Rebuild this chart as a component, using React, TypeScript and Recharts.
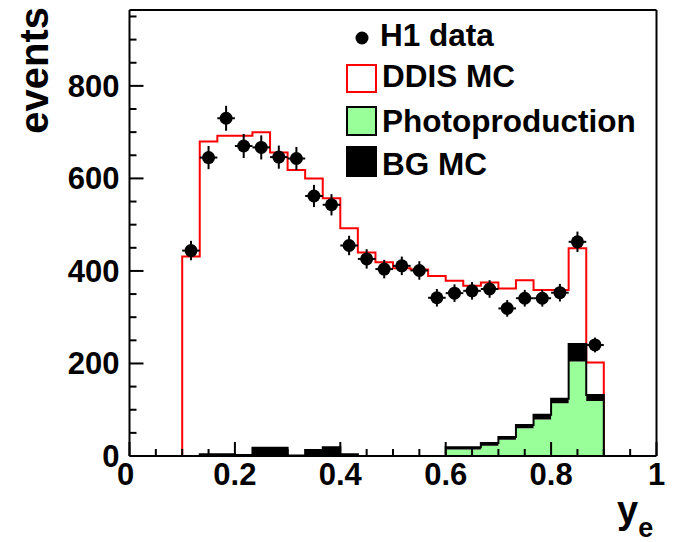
import React from 'react';
import { ComposedChart, Area, Scatter, ErrorBar, XAxis, YAxis, ReferenceLine } from 'recharts';

// y_e distribution: 24 bins of width 1/30 between 0.1 and 0.9
const binEdges = [
  0.1, 0.1333, 0.1667, 0.2, 0.2333, 0.2667, 0.3, 0.3333, 0.3667, 0.4, 0.4333, 0.4667, 0.5,
  0.5333, 0.5667, 0.6, 0.6333, 0.6667, 0.7, 0.7333, 0.7667, 0.8, 0.8333, 0.8667, 0.9,
];
const binCenters = [
  0.1167, 0.15, 0.1833, 0.2167, 0.25, 0.2833, 0.3167, 0.35, 0.3833, 0.4167, 0.45, 0.4833,
  0.5167, 0.55, 0.5833, 0.6167, 0.65, 0.6833, 0.7167, 0.75, 0.7833, 0.8167, 0.85, 0.8833,
];
const halfBin = 0.0167;

// total MC (DDIS + backgrounds), red step line
const ddisMC = [
  431, 680, 692, 692, 700, 656, 618, 600, 557, 492, 440, 419,
  406, 403, 389, 379, 368, 375, 362, 380, 359, 359, 449, 202,
];
const photoprod = [
  0, 0, 0, 0, 0, 0, 0, 0, 0, 0, 0, 0,
  0, 0, 0, 14, 14, 22, 35, 60, 79, 114, 204, 119,
];
const bgMC = [
  0, 4, 4, 2, 18, 18, 1, 13, 19, 4, 0, 0,
  0, 0, 0, 5, 5, 6, 6, 7, 10, 10, 38, 13,
];
const h1Data = [
  444, 645, 730, 670, 667, 646, 643, 562, 543, 455, 426, 404,
  411, 401, 342, 352, 357, 361, 319, 341, 341, 353, 463, 240,
];
const h1Err = [
  21, 25, 27, 26, 26, 25, 25, 24, 23, 21, 21, 20,
  20, 20, 19, 19, 19, 19, 18, 18, 18, 19, 22, 16,
];

const X_TICKS = [
  0, 0.05, 0.1, 0.15, 0.2, 0.25, 0.3, 0.35, 0.4, 0.45, 0.5,
  0.55, 0.6, 0.65, 0.7, 0.75, 0.8, 0.85, 0.9, 0.95, 1,
];
const X_MAJOR = [0, 0.2, 0.4, 0.6, 0.8, 1];
const Y_TICKS = [
  0, 50, 100, 150, 200, 250, 300, 350, 400, 450,
  500, 550, 600, 650, 700, 750, 800, 850, 900, 950,
];
const Y_MAJOR = [0, 200, 400, 600, 800];
const Y_MAX = 964;

const last = ddisMC.length - 1;
const histRows = [
  { x: binEdges[0], ddis: 0, photo: 0, bg: 0 },
  ...ddisMC.map((v, i) => ({ x: binEdges[i], ddis: v, photo: photoprod[i], bg: bgMC[i] })),
  { x: binEdges[last + 1], ddis: ddisMC[last], photo: photoprod[last], bg: bgMC[last] },
  { x: binEdges[last + 1], ddis: 0, photo: 0, bg: 0 },
];
const h1Points = binCenters.map((x, i) => ({ x, y: h1Data[i], err: h1Err[i], xerr: halfBin }));

const FONT = '"Liberation Sans", Arial, Helvetica, sans-serif';
const GREEN = '#99ff99';

function XTick({ x, y, payload }: any) {
  const v = payload.value;
  const major = X_MAJOR.includes(v);
  return (
    <g>
      <line x1={x} x2={x} y1={y} y2={y - (major ? 14 : 7)} stroke="#000" strokeWidth={2} />
      {major && (
        <text x={x + (v === 0 ? -4 : 0)} y={y + 29} textAnchor="middle"
          fontFamily={FONT} fontWeight="bold" fontSize={31} fill="#000">
          {v}
        </text>
      )}
    </g>
  );
}

function YTick({ x, y, payload }: any) {
  const v = payload.value;
  const major = Y_MAJOR.includes(v);
  return (
    <g>
      <line x1={x} x2={x + (major ? 14 : 7)} y1={y} y2={y} stroke="#000" strokeWidth={2} />
      {major && (
        <text x={x - 10} y={y + 11} textAnchor="end"
          fontFamily={FONT} fontWeight="bold" fontSize={31} fill="#000">
          {v}
        </text>
      )}
    </g>
  );
}

function DataMarker({ cx, cy }: any) {
  return <circle cx={cx} cy={cy} r={6.5} fill="#000" />;
}

function Overlay() {
  const txt = { fontFamily: FONT, fontWeight: 'bold' as const, fontSize: 31.5, fill: '#000' };
  return (
    <svg width={675} height={542} style={{ position: 'absolute', left: 0, top: 0, pointerEvents: 'none' }}>
      <text transform="translate(48, 7) rotate(-90)" textAnchor="end"
        fontFamily={FONT} fontWeight="bold" fontSize={40} fill="#000">events</text>
      <text x={617} y={523} fontFamily={FONT} fontWeight="bold" fontSize={38} fill="#000">
        y<tspan fontSize={27} dy={14}>e</tspan>
      </text>

      <circle cx={362} cy={38} r={6.5} fill="#000" />
      <text x={380} y={46} {...txt}>H1 data</text>
      <rect x={347} y={65} width={29} height={27} fill="#fff" stroke="#ff0000" strokeWidth={2} />
      <text x={382} y={87} {...txt}>DDIS MC</text>
      <rect x={347} y={107} width={29} height={28} fill={GREEN} stroke="#000" strokeWidth={2} />
      <text x={382} y={132} {...txt}>Photoproduction</text>
      <rect x={346} y={146} width={31} height={31} fill="#000" />
      <text x={382} y={175} {...txt}>BG MC</text>
    </svg>
  );
}

export default function App() {
  return (
    <div style={{ position: 'absolute', left: 0, top: 0, width: 675, height: 542, background: '#fff' }}>
      <ComposedChart width={675} height={542} data={histRows}
        margin={{ top: 10, right: 18.5, bottom: 0, left: 0 }}>
        <XAxis type="number" dataKey="x" domain={[0, 1]} ticks={X_TICKS} interval={0}
          tickSize={0} tickMargin={0} tick={(p: any) => <XTick {...p} />} tickLine={false}
          axisLine={{ stroke: '#000', strokeWidth: 2 }} height={86} allowDataOverflow />
        <YAxis type="number" domain={[0, Y_MAX]} ticks={Y_TICKS} interval={0}
          tickSize={0} tickMargin={0} tick={(p: any) => <YTick {...p} />} tickLine={false}
          axisLine={{ stroke: '#000', strokeWidth: 2 }} width={129.5} allowDataOverflow />
        <ReferenceLine y={Y_MAX} stroke="#000" strokeWidth={2} />
        <ReferenceLine x={1} stroke="#000" strokeWidth={2} />
        <Area dataKey="ddis" type="stepAfter" stroke="#ff0000" strokeWidth={2} fill="none"
          dot={false} activeDot={false} isAnimationActive={false} />
        <Area dataKey="photo" stackId="mc" type="stepAfter" stroke="none" fill={GREEN} fillOpacity={1}
          dot={false} activeDot={false} isAnimationActive={false} />
        <Area dataKey="bg" stackId="mc" type="stepAfter" stroke="#000" strokeWidth={2} fill="#000"
          fillOpacity={1} dot={false} activeDot={false} isAnimationActive={false} />
        <Scatter data={h1Points} dataKey="y" fill="#000" shape={(p: any) => <DataMarker {...p} />}
          isAnimationActive={false}>
          <ErrorBar dataKey="err" direction="y" width={0} stroke="#000" strokeWidth={2} isAnimationActive={false} />
          <ErrorBar dataKey="xerr" direction="x" width={0} stroke="#000" strokeWidth={2} isAnimationActive={false} />
        </Scatter>
      </ComposedChart>
      <Overlay />
    </div>
  );
}
